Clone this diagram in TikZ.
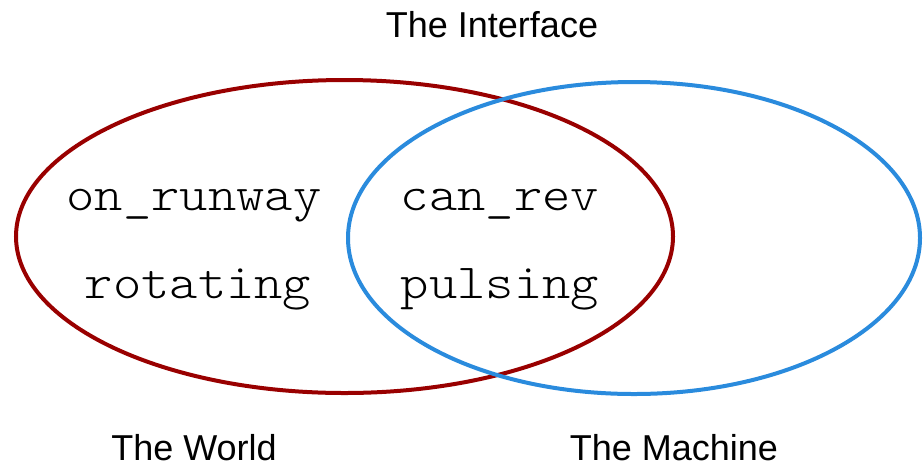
\documentclass[tikz,border=0pt]{standalone}
\usepackage{fontspec}
\setmainfont{Liberation Sans}
\newfontfamily\monofont[FakeStretch=1.1]{Latin Modern Mono Light}
\definecolor{worldred}{HTML}{990000}
\definecolor{machineblue}{HTML}{2A8BDD}
\tikzset{
  setline/.style={line width=4pt},
  label/.style={font=\fontsize{36}{40}\selectfont, anchor=base, inner sep=0pt},
  term/.style={font=\monofont\fontsize{49}{54}\selectfont, anchor=base, inner sep=0pt}
}
\begin{document}
\begin{tikzpicture}[x=1pt,y=-1pt]
\useasboundingbox (0,0) rectangle (923,467);
\draw[setline, worldred] (344.5,236.5) ellipse [x radius=328.5, y radius=156.5];
\draw[setline, machineblue] (634,238) ellipse [x radius=286, y radius=156];
\node[label] (iface) at (492,37) {The Interface};
\node[label] (world) at (194,460) {The World};
\node[label] (machine) at (674,460) {The Machine};
\node[term] (onrunway) at (194,210) {on\_runway};
\node[term] (rotating) at (198,298) {rotating};
\node[term] (canrev) at (500,210) {can\_rev};
\node[term] (pulsing) at (500,298) {pulsing};
\end{tikzpicture}
\end{document}
